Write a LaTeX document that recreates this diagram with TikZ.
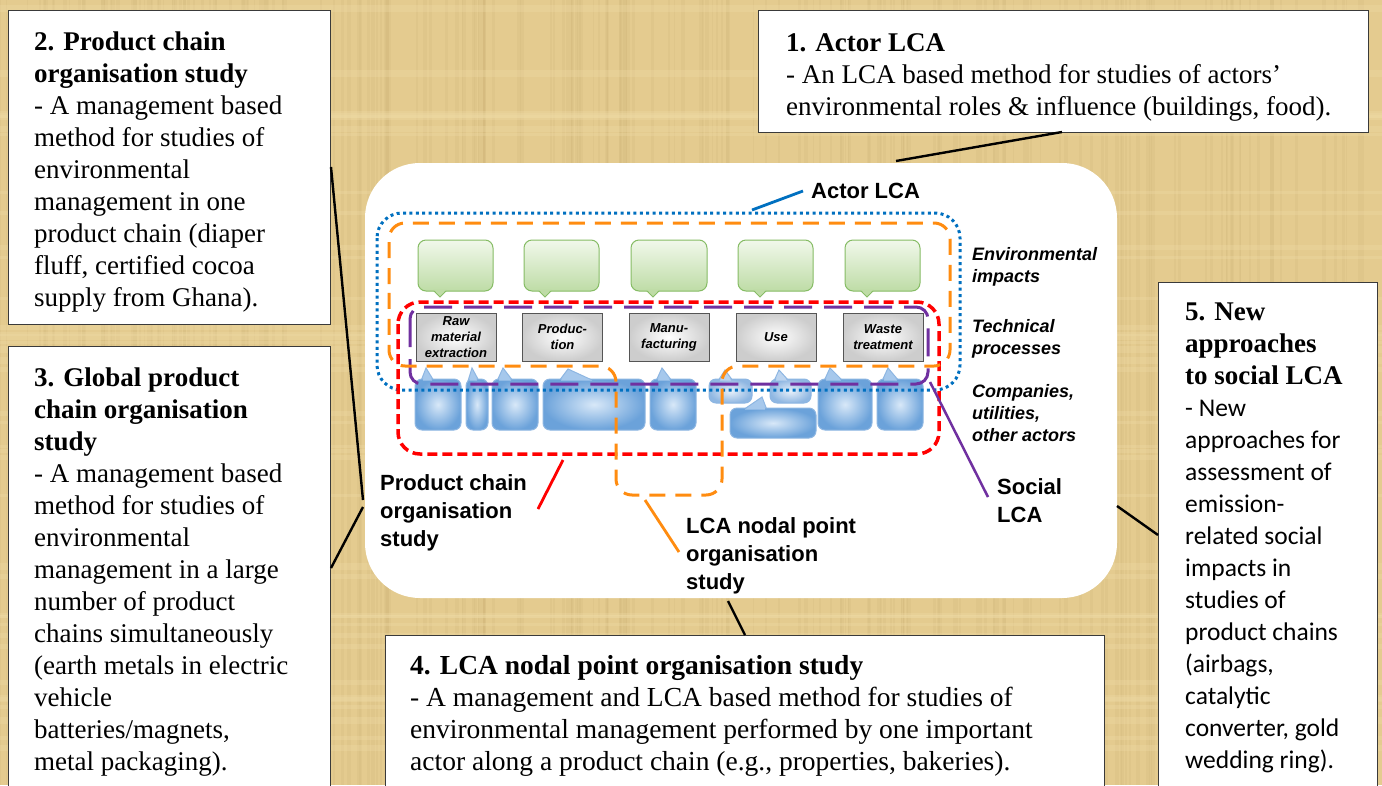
\documentclass[tikz,border=0pt]{standalone}
\usepackage{fontspec}
\setmainfont{Liberation Serif}
\newfontfamily\arialf{Liberation Sans}
\newfontfamily\calib{Carlito}
\newcommand\cb{\calib\fontsize{25.5}{32}\selectfont}
\definecolor{bgtan}{HTML}{E4CB8F}
\definecolor{bgdark}{HTML}{CDB174}
\definecolor{bglight}{HTML}{F0DDA8}
\definecolor{boxline}{HTML}{3A3A3A}
\definecolor{ablue}{HTML}{0070C0}
\definecolor{aorange}{HTML}{FF8C10}
\definecolor{ared}{HTML}{FF0000}
\definecolor{apurple}{HTML}{7030A0}
\definecolor{gtop}{HTML}{F1F8EB}
\definecolor{gbot}{HTML}{BEDCA6}
\definecolor{gline}{HTML}{86BC65}
\definecolor{bin}{HTML}{D8E8F8}
\definecolor{bout}{HTML}{6BA2DA}
\definecolor{bmid}{HTML}{A6C8EC}
\definecolor{bline}{HTML}{8DB6E2}
\definecolor{tin}{HTML}{E8F0FA}
\definecolor{tout}{HTML}{8FB7E2}
\definecolor{tmid}{HTML}{BCD4EF}
\definecolor{procgray}{HTML}{CDCDCD}
\definecolor{procline}{HTML}{555555}
\tikzset{
  bodyn/.style={inner color=bin, outer color=bout, draw=bline},
  ptrn/.style={fill=bmid, draw=bline},
  patchn/.style={fill=bmid},
  bodyt/.style={inner color=tin, outer color=tout, draw=bline},
  ptrt/.style={fill=tmid, draw=bline},
  patcht/.style={fill=tmid},
}
% x1 y1 x2 y2 bl tx ty br kind
\newcommand\bcall[9]{%
  \path[ptr#9, line width=1pt] (#5,{#2+2}) -- (#6,#7) -- (#8,{#2+2}) -- cycle;
  \shadedraw[body#9, line width=1pt, rounded corners=7] (#1,#2) rectangle (#3,#4);
  \path[patch#9] ({#5+1.8},{#2+1.5}) -- (#6,{#7+2}) -- ({#8-1.8},{#2+1.5}) -- cycle;}
% x1 x2 tip
\newcommand\gcall[3]{%
  \filldraw[fill=gbot, draw=gline, line width=1pt] ({#3-8},289) -- (#3,297) -- ({#3+8},289) -- cycle;
  \shadedraw[top color=gtop, bottom color=gbot, draw=gline, line width=1pt, rounded corners=8] (#1,240) rectangle (#2,291);
  \fill[gbot] ({#3-6.5},289.5) -- (#3,295.6) -- ({#3+6.5},289.5) -- cycle;}
\begin{document}
\begin{tikzpicture}[x=1pt,y=-1pt,
  box/.style={draw=boxline, fill=white, line width=1pt, inner sep=0, anchor=north west},
  btxt/.style={anchor=north west, align=left, inner sep=0, font=\fontsize{27}{32}\selectfont},
  lbl/.style={anchor=north west, align=left, inner sep=0, font=\arialf\bfseries\fontsize{22}{28}\selectfont},
  ilbl/.style={anchor=north west, align=left, inner sep=0, font=\arialf\bfseries\itshape\fontsize{18}{22}\selectfont},
  procbox/.style={draw=procline, line width=1pt, inner color=white, outer color=procgray, minimum width=80, minimum height=48, inner sep=0, align=center, font=\arialf\bfseries\itshape\fontsize{13}{16}\selectfont},
  conn/.style={line width=2.4pt, black},
  tag/.style={line width=2.8pt}]
\useasboundingbox (0,0) rectangle (1382,785);
% background texture
\fill[bgtan] (0,0) rectangle (1382,785);
\pgfmathsetseed{7}
\foreach \i in {1,...,220}{
  \pgfmathsetmacro\xx{rnd*1380}\pgfmathsetmacro\ww{1+rnd*3}
  \fill[bgdark, opacity=0.18] (\xx,0) rectangle ({\xx+\ww},785);}
\foreach \i in {1,...,40}{
  \pgfmathsetmacro\yy{rnd*780}\pgfmathsetmacro\hh{2+rnd*6}
  \fill[bglight, opacity=0.3] (0,\yy) rectangle (1382,{\yy+\hh});}

% outer text boxes
\node[box, minimum width=610, minimum height=122] (box1) at (758,10) {};
\node[box, minimum width=322, minimum height=314] (box2) at (8,10) {};
\node[box, minimum width=322, minimum height=441] (box3) at (8,346) {};
\node[box, minimum width=719, minimum height=152] (box4) at (385,635) {};
\node[box, minimum width=219, minimum height=505] (box5) at (1158,282) {};

\node[btxt] (t1) at (786,33) {\textbf{1. Actor LCA}\\- An LCA based method for studies of actors’\\environmental roles \& influence (buildings, food).};
\node[btxt] (t2) at (34,31.5) {\textbf{2. Product chain}\\\textbf{organisation study}\\- A management based\\method for studies of\\environmental\\management in one\\product chain (diaper\\fluff, certified cocoa\\supply from Ghana).};
\node[btxt] (t3) at (34,368) {\textbf{3. Global product}\\\textbf{chain organisation}\\\textbf{study}\\- A management based\\method for studies of\\environmental\\management in a large\\number of product\\chains simultaneously\\(earth metals in electric\\vehicle\\batteries/magnets,\\metal packaging).};
\node[btxt, font=\fontsize{27.5}{32}\selectfont] (t4) at (410,655) {\textbf{4. LCA nodal point organisation study}\\- A management and LCA based method for studies of\\environmental management performed by one important\\actor along a product chain (e.g., properties, bakeries).};
\node[btxt] (t5) at (1185,303) {\textbf{5. New}\\\textbf{approaches}\\\textbf{to social LCA}\\{\cb - New}\\{\cb approaches for}\\{\cb assessment of}\\{\cb emission-}\\{\cb related social}\\{\cb impacts in}\\{\cb studies of}\\{\cb product chains}\\{\cb (airbags,}\\{\cb catalytic}\\{\cb converter, gold}\\{\cb wedding ring).}};

% central panel
\node[fill=white, rounded corners=55, minimum width=752, minimum height=435, inner sep=0] (panel) at (741,380.5) {};

% connectors
\coordinate (k1a) at (896,161); \coordinate (k1b) at (1062,132);
\coordinate (k2a) at (331,167); \coordinate (k2b) at (363,500);
\coordinate (k3a) at (363,507); \coordinate (k3b) at (331,568);
\coordinate (k4a) at (728,601); \coordinate (k4b) at (745,635);
\coordinate (k5a) at (1117,506); \coordinate (k5b) at (1158,535);
\draw[conn] (k1a) -- (k1b);
\draw[conn] (k2a) -- (k2b);
\draw[conn] (k3a) -- (k3b);
\draw[conn] (k4a) -- (k4b);
\draw[conn] (k5a) -- (k5b);

% green impact callouts
\gcall{418}{493}{440}
\gcall{524}{599}{545}
\gcall{631}{707}{653}
\gcall{738}{813}{760}
\gcall{845}{920}{867}

% technical processes
\node[procbox] (p1) at (456,337) {Raw\\material\\extraction};
\node[procbox] (p2) at (562.5,337) {Produc-\\tion};
\node[procbox] (p3) at (669,337) {Manu-\\facturing};
\node[procbox] (p4) at (776,337) {Use};
\node[procbox] (p5) at (883,337) {Waste\\treatment};

% actor callouts
\bcall{415}{379}{461}{430}{421}{426}{368}{434}{n}
\bcall{466}{379}{488}{430}{468}{472}{368}{479}{n}
\bcall{492}{379}{538}{430}{497}{503}{368}{513}{n}
\bcall{543}{379}{645}{430}{559}{568}{369}{594}{n}
\bcall{650}{379}{696}{430}{656}{662}{368}{672}{n}
\bcall{709}{379}{752}{403}{718}{725}{370}{733}{t}
\bcall{770}{379}{811}{403}{774}{779}{370}{789}{t}
\bcall{730}{408}{816}{438}{743}{762}{397}{767}{n}
\bcall{818}{379}{872}{430}{824}{830}{368}{843}{n}
\bcall{877}{379}{923}{430}{882}{888}{368}{899}{n}

% boundaries of the study types
\draw[ablue, line width=3pt, dash pattern=on 3pt off 3.4pt, rounded corners=25] (377,213) rectangle (960,390);
\draw[apurple, line width=3pt, dash pattern=on 28pt off 12pt, rounded corners=12] (410,307) rectangle (928,384);
\draw[ared, line width=3.5pt, dash pattern=on 10pt off 5pt, rounded corners=22] (398,302) rectangle (939,454);
\draw[aorange, line width=3pt, dash pattern=on 16pt off 10pt, rounded corners=16] (389,300) -- (389,223) -- (950,223) -- (950,366) -- (722,366) -- (722,495) -- (616,495) -- (616,366) -- (389,366) -- cycle;

% labels
\node[lbl, anchor=base west] (lActor) at (811,198) {Actor LCA};
\node[ilbl] (lEnv) at (972,247) {Environmental\\impacts};
\node[ilbl] (lTech) at (972,319) {Technical\\processes};
\node[ilbl] (lComp) at (972,384) {Companies,\\utilities,\\other actors};
\node[lbl] (lSoc) at (997,478) {Social\\LCA};
\node[lbl] (lPC) at (380,474) {Product chain\\organisation\\study};
\node[lbl] (lNP) at (686,517) {LCA nodal point\\organisation\\study};

% label pointers
\coordinate (qa1) at (752,210); \coordinate (qa2) at (803,191);
\coordinate (qs1) at (930,382); \coordinate (qs2) at (988,497);
\coordinate (qp1) at (563,460); \coordinate (qp2) at (538,509);
\coordinate (qn1) at (645,500); \coordinate (qn2) at (679,552);
\draw[tag, ablue] (qa1) -- (qa2);
\draw[tag, apurple, line width=2.5pt] (qs1) -- (qs2);
\draw[tag, ared] (qp1) -- (qp2);
\draw[tag, aorange] (qn1) -- (qn2);
\end{tikzpicture}
\end{document}
